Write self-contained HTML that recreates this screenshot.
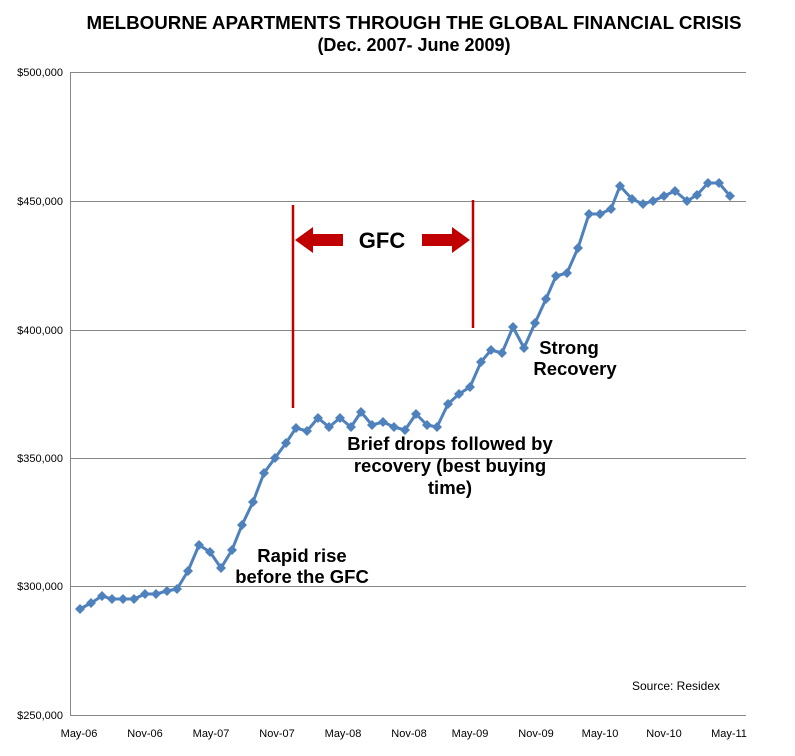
<!DOCTYPE html>
<html><head><meta charset="utf-8"><style>
body{margin:0;background:#fff}
svg{display:block;font-family:"Liberation Sans",Arial,sans-serif}
</style></head><body>
<svg width="795" height="756" viewBox="0 0 795 756" xmlns="http://www.w3.org/2000/svg">
<defs>
<marker id="d" viewBox="-6 -6 12 12" markerWidth="12" markerHeight="12" markerUnits="userSpaceOnUse" refX="0" refY="0">
<polygon points="0,-5 5,0 0,5 -5,0" fill="#4f81bd"/>
</marker>
</defs>
<rect width="795" height="756" fill="#fff"/>
<text x="414" y="29" text-anchor="middle" font-weight="bold" font-size="18" textLength="655" lengthAdjust="spacingAndGlyphs">MELBOURNE APARTMENTS THROUGH THE GLOBAL FINANCIAL CRISIS</text>
<text x="414" y="51" text-anchor="middle" font-weight="bold" font-size="18">(Dec. 2007- June 2009)</text>
<g stroke="#888" stroke-width="1">
<line x1="70" y1="72.5" x2="746" y2="72.5"/>
<line x1="70" y1="201.5" x2="746" y2="201.5"/>
<line x1="70" y1="330.5" x2="746" y2="330.5"/>
<line x1="70" y1="458.5" x2="746" y2="458.5"/>
<line x1="70" y1="586.5" x2="746" y2="586.5"/>
<line x1="70" y1="715.5" x2="746" y2="715.5"/>
<line x1="70.5" y1="72" x2="70.5" y2="715"/>
</g>
<g font-size="11" text-anchor="end" fill="#000">
<text x="63" y="76">$500,000</text>
<text x="63" y="205">$450,000</text>
<text x="63" y="334">$400,000</text>
<text x="63" y="462">$350,000</text>
<text x="63" y="590">$300,000</text>
<text x="63" y="719">$250,000</text>
</g>
<g font-size="11" text-anchor="middle">
<text x="79" y="737">May-06</text>
<text x="145" y="737">Nov-06</text>
<text x="211" y="737">May-07</text>
<text x="277" y="737">Nov-07</text>
<text x="343" y="737">May-08</text>
<text x="409" y="737">Nov-08</text>
<text x="470" y="737">May-09</text>
<text x="536" y="737">Nov-09</text>
<text x="600" y="737">May-10</text>
<text x="664" y="737">Nov-10</text>
<text x="729" y="737">May-11</text>
</g>
<g stroke="#c00000" stroke-width="2.5">
<line x1="293" y1="205" x2="293" y2="408"/>
<line x1="473" y1="200" x2="473" y2="328"/>
</g>
<polygon points="295,240 313,227 313,234 343,234 343,246 313,246 313,253" fill="#c00000"/>
<polygon points="470,240 452,227 452,234 422,234 422,246 452,246 452,253" fill="#c00000"/>
<text x="382" y="248" text-anchor="middle" font-weight="bold" font-size="22">GFC</text>
<polyline fill="none" stroke="#4f81bd" stroke-width="3" stroke-linejoin="round" marker-start="url(#d)" marker-mid="url(#d)" marker-end="url(#d)" points="80,609 91,603 102,596 112,599 123,599 134,599 145,594 156,594 167,591 177,589 188,571 199,545 210,552 221,568 232,550 242,525 253,502 264,473 275,458 286,443 296,428 307,431 318,418 329,427 340,418 351,427 361,412 372,425 383,422 394,427 405,430 416,414 427,425 437,427 448,404 459,394 470,387 481,362 491,350 502,353 513,327 524,348 535,323 546,299 556,276 567,273 578,248 589,214 600,214 611,209 620,186 632,199 643,204 653,201 664,196 675,191 687,201 697,195 708,183 719,183 730,196"/>
<g font-weight="bold" font-size="18.5" text-anchor="middle">
<text x="302" y="562">Rapid rise</text>
<text x="302" y="583">before the GFC</text>
<text x="450" y="450">Brief drops followed by</text>
<text x="450" y="472">recovery (best buying</text>
<text x="450" y="494">time)</text>
<text x="569" y="354">Strong</text>
<text x="575" y="375">Recovery</text>
</g>
<text x="676" y="690" text-anchor="middle" font-size="12">Source: Residex</text>
</svg>
</body></html>
